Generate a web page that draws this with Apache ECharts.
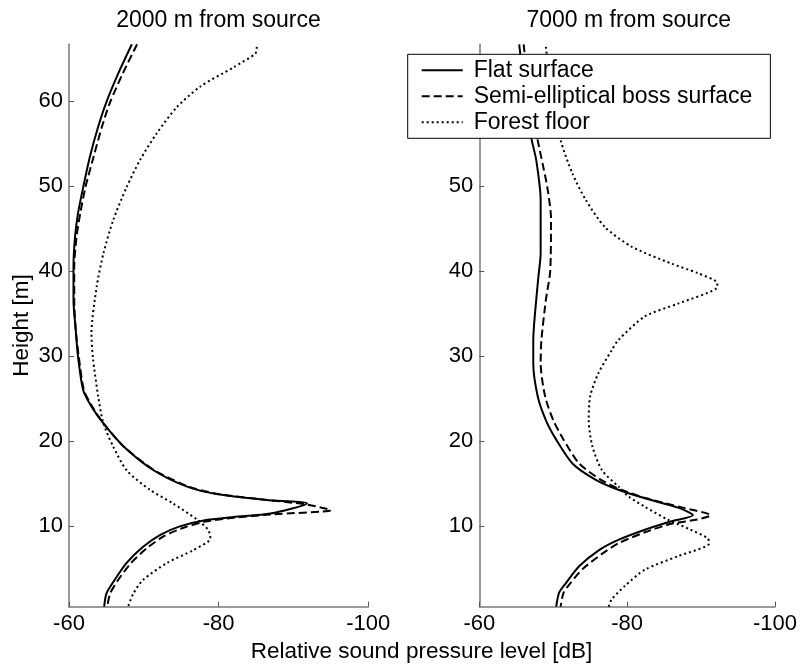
<!DOCTYPE html>
<html>
<head>
<meta charset="utf-8">
<script src="https://cdn.jsdelivr.net/npm/echarts@6/dist/echarts.min.js"></script>
<style>html,body{margin:0;padding:0;background:#fff}#c{width:800px;height:667px}</style>
</head>
<body>
<div id="c"></div>
<script>
// ---- data: [level dB, height m] ----
var panelTitles = ['2000 m from source', '7000 m from source'];
var seriesNames = ['Flat surface', 'Semi-elliptical boss surface', 'Forest floor'];
var xTicks = [-60, -80, -100];
var yTicks = [10, 20, 30, 40, 50, 60];

var flat2000 = [[-68.4,66.7],[-66.6,63.3],[-65.0,59.9],[-63.9,57.0],[-62.8,53.5],[-61.9,49.9],[-61.2,46.8],[-60.8,44.0],[-60.6,40.5],[-60.6,36.6],[-60.9,33.1],[-61.2,30.0],[-61.9,26.0],[-63.0,24.1],[-64.6,22.1],[-67.3,19.4],[-71.3,16.6],[-75.7,14.7],[-79.7,13.8],[-86.4,13.1],[-91.8,12.7],[-86.9,11.5],[-82.0,11.1],[-78.0,10.7],[-74.8,10.0],[-72.2,9.0],[-69.9,7.6],[-67.7,5.7],[-66.1,3.7],[-65.0,2.1],[-64.7,0.55]];
var boss2000 = [[-69.1,66.7],[-67.2,63.3],[-65.5,59.9],[-64.4,57.0],[-63.3,53.5],[-62.2,49.9],[-61.5,46.8],[-61.0,44.0],[-60.7,40.5],[-60.7,36.6],[-60.9,33.1],[-61.3,30.0],[-62.0,26.0],[-63.1,24.1],[-64.6,22.1],[-67.3,19.4],[-71.4,16.6],[-75.9,14.7],[-80.0,13.8],[-86.5,13.1],[-91.5,12.6],[-95.0,11.9],[-86.9,11.4],[-82.0,11.0],[-78.5,10.6],[-75.5,9.9],[-72.8,8.9],[-70.5,7.5],[-68.2,5.6],[-66.5,3.6],[-65.5,2.1],[-65.1,0.55]];
var forest2000 = [[-85.1,66.4],[-84.9,65.6],[-82.0,64.0],[-77.5,61.7],[-74.4,59.3],[-71.7,56.2],[-69.5,53.1],[-67.7,49.9],[-65.9,46.0],[-64.6,42.1],[-63.7,38.2],[-63.0,32.7],[-63.2,29.8],[-63.9,25.3],[-64.6,22.1],[-65.9,19.4],[-67.7,16.6],[-70.8,14.3],[-73.9,12.7],[-77.1,10.8],[-78.6,9.6],[-78.9,8.6],[-76.6,7.2],[-73.1,5.7],[-69.9,3.7],[-68.6,2.1],[-67.9,0.55]];

var flat7000 = [[-65.4,66.7],[-66.0,62.0],[-66.6,58.0],[-67.1,55.4],[-67.7,53.1],[-68.3,48.4],[-68.3,42.1],[-68.0,39.4],[-67.5,34.7],[-67.3,31.9],[-67.3,29.2],[-67.9,25.3],[-69.0,22.5],[-70.4,20.2],[-72.6,17.4],[-75.7,15.5],[-78.8,14.3],[-82.4,13.3],[-86.9,12.2],[-88.9,11.3],[-86.0,10.6],[-82.4,9.6],[-78.8,8.4],[-76.2,7.2],[-73.5,5.3],[-71.7,3.3],[-70.8,2.2],[-70.4,0.55]];
var boss7000 = [[-66.0,66.7],[-66.6,62.0],[-67.3,58.0],[-67.9,55.4],[-68.6,52.5],[-69.2,49.9],[-69.7,46.2],[-69.6,40.1],[-69.0,36.6],[-68.4,31.9],[-68.3,29.2],[-68.9,25.3],[-70.0,22.5],[-71.4,20.2],[-73.5,17.4],[-76.4,15.5],[-79.2,14.3],[-82.6,13.3],[-87.5,12.2],[-91.3,11.3],[-89.5,10.8],[-86.0,10.3],[-82.4,9.3],[-78.8,8.0],[-76.5,6.7],[-74.0,5.0],[-72.3,3.3],[-71.4,2.2],[-71.0,0.55]];
var forest7000 = [[-69.0,66.4],[-69.8,61.0],[-71.0,55.4],[-72.6,51.5],[-74.4,48.4],[-77.0,45.2],[-80.6,42.9],[-86.0,40.9],[-89.5,39.8],[-92.2,38.6],[-92.1,38.0],[-86.9,36.2],[-82.4,34.7],[-78.8,31.9],[-77.9,30.7],[-76.1,28.0],[-75.0,25.3],[-74.8,22.5],[-75.3,19.4],[-76.6,16.6],[-78.8,14.7],[-80.2,13.5],[-82.4,12.3],[-85.5,10.8],[-88.6,9.6],[-90.9,8.6],[-91.1,8.0],[-86.9,6.5],[-82.4,4.9],[-79.7,3.0],[-77.9,1.4],[-77.5,0.55]];

var xLabel = 'Relative sound pressure level [dB]';
var yLabel = 'Height [m]';

// ---- chart ----
var FONT = 'Liberation Sans, Arial, Helvetica, sans-serif';
var axisGray = '#7a7a7a';
var lineStyles = [
  {type: 'solid', width: 2, color: '#000'},
  {type: [8, 4], width: 2, color: '#000'},
  {type: [2, 3], width: 2, color: '#000', cap: 'butt'}
];
var panels = [[flat2000, boss2000, forest2000], [flat7000, boss7000, forest7000]];

function xAxisCfg(i) {
  return {
    type: 'value', gridIndex: i, min: -100, max: -60, inverse: true,
    axisLine: {show: true, onZero: false, lineStyle: {color: axisGray, width: 1.5}},
    axisTick: {show: true, inside: true, length: 5, customValues: xTicks, lineStyle: {color: '#555', width: 1}},
    axisLabel: {show: true, customValues: xTicks, fontSize: 22, fontFamily: FONT, color: '#000', margin: 6},
    splitLine: {show: false}
  };
}
function yAxisCfg(i) {
  return {
    type: 'value', gridIndex: i, min: 0.55, max: 66.7,
    name: i === 0 ? yLabel : '', nameLocation: 'middle', nameGap: 36, nameRotate: 90,
    nameTextStyle: {fontSize: 22.5, fontFamily: FONT, color: '#000'},
    axisLine: {show: true, onZero: false, lineStyle: {color: axisGray, width: 1.5}},
    axisTick: {show: true, inside: true, length: 5, customValues: yTicks, lineStyle: {color: '#555', width: 1}},
    axisLabel: {show: true, customValues: yTicks, fontSize: 22, fontFamily: FONT, color: '#000', margin: 6},
    splitLine: {show: false}
  };
}

var series = [];
panels.forEach(function (p, gi) {
  p.forEach(function (d, si) {
    series.push({
      name: seriesNames[si], type: 'line', xAxisIndex: gi, yAxisIndex: gi,
      data: d, showSymbol: false, symbol: 'none', smooth: 0.25,
      lineStyle: lineStyles[si], itemStyle: {color: '#000'}, z: 2
    });
  });
});

var chart = echarts.init(document.getElementById('c'), null, {renderer: 'canvas'});
chart.setOption({
  animation: false,
  backgroundColor: '#fff',
  grid: [
    {left: 69, right: 431.7, top: 44.3, bottom: 60.3},
    {left: 479.3, right: 21.7, top: 44.3, bottom: 60.3}
  ],
  xAxis: [xAxisCfg(0), xAxisCfg(1)],
  yAxis: [yAxisCfg(0), yAxisCfg(1)],
  legend: {
    orient: 'vertical', left: 407.7, top: 54.3,
    backgroundColor: '#fff', borderColor: '#000', borderWidth: 1,
    padding: [3, 18, 3, 13], itemWidth: 41, itemHeight: 14, itemGap: 0,
    itemStyle: {opacity: 0},
    textStyle: {fontSize: 23, fontFamily: FONT, color: '#000', lineHeight: 26, padding: [0, 0, 0, 6]},
    data: seriesNames, selectedMode: false, z: 10
  },
  graphic: [
    {type: 'text', style: {text: panelTitles[0], font: '23px ' + FONT, fill: '#000', textAlign: 'center', x: 218.5, y: 9}},
    {type: 'text', style: {text: panelTitles[1], font: '23px ' + FONT, fill: '#000', textAlign: 'center', x: 628.7, y: 9}},
    {type: 'text', style: {text: xLabel, font: '22.5px ' + FONT, fill: '#000', textAlign: 'center', x: 421.5, y: 640}}
  ],
  series: series
});
</script>
</body>
</html>
